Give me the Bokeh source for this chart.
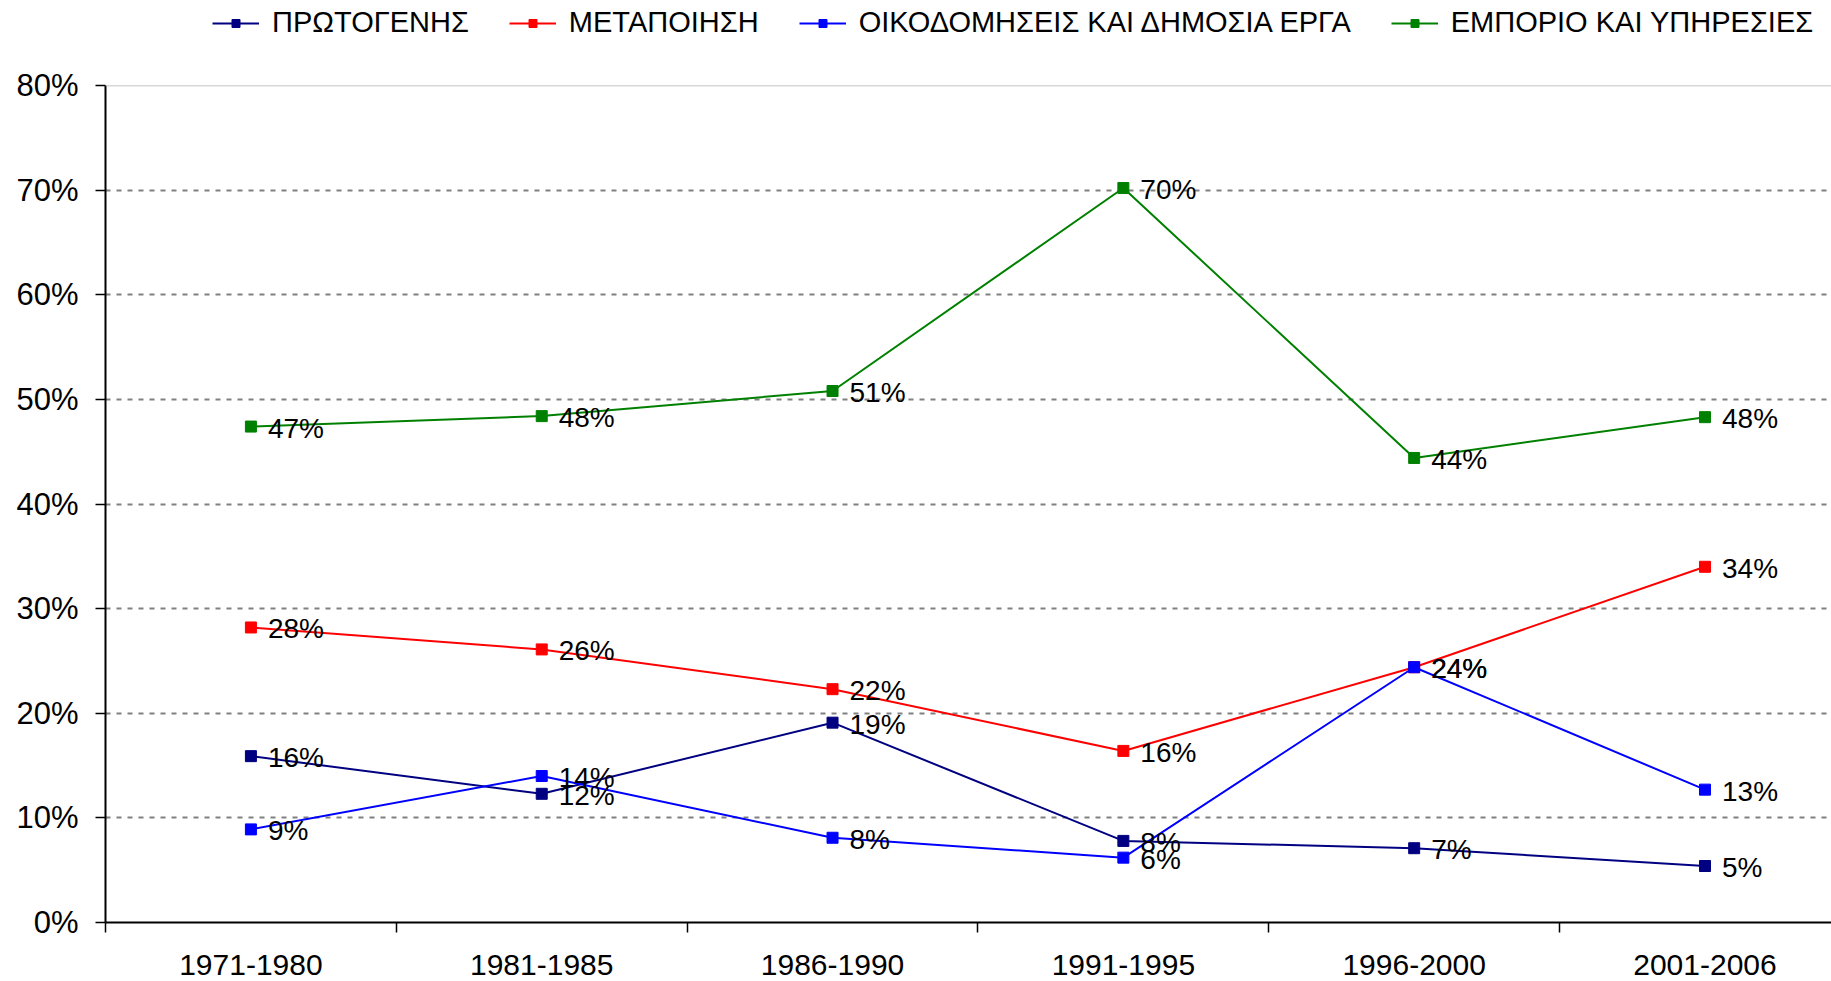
from bokeh.plotting import figure
from bokeh.layouts import column
from bokeh.models import (ColumnDataSource, Range1d, FixedTicker, PrintfTickFormatter,
                          Legend, LegendItem, Span)
from bokeh.core.properties import value
from bokeh.embed import file_html
from bokeh.resources import INLINE

categories = ["1971-1980", "1981-1985", "1986-1990", "1991-1995", "1996-2000", "2001-2006"]
primary = [15.9, 12.3, 19.1, 7.8, 7.1, 5.4]
manufacturing = [28.2, 26.1, 22.3, 16.4, 24.4, 34.0]
construction = [8.9, 14.0, 8.1, 6.2, 24.4, 12.7]
services = [47.4, 48.4, 50.8, 70.2, 44.4, 48.3]
series_names = ["ΠΡΩΤΟΓΕΝΗΣ", "ΜΕΤΑΠΟΙΗΣΗ", "ΟΙΚΟΔΟΜΗΣΕΙΣ ΚΑΙ ΔΗΜΟΣΙΑ ΕΡΓΑ", "ΕΜΠΟΡΙΟ ΚΑΙ ΥΠΗΡΕΣΙΕΣ"]
series_colors = ["#000080", "#FF0000", "#0000FF", "#008000"]
y_ticks = [0, 10, 20, 30, 40, 50, 60, 70, 80]

FONT = "Liberation Sans"
LEG_H = 65

xs = [i + 0.5 for i in range(len(categories))]
all_series = [primary, manufacturing, construction, services]
sources = [ColumnDataSource(dict(x=xs, y=vals)) for vals in all_series]

# ---- legend strip (top); its ranges show none of the data, only the legend ----
lf = figure(width=1831, height=LEG_H, output_backend="svg", toolbar_location=None,
            x_range=Range1d(-100, -99), y_range=Range1d(-100, -99),
            min_border_left=105, min_border_right=0, min_border_top=0, min_border_bottom=0)
lf.axis.visible = False
lf.grid.visible = False
lf.outline_line_color = None
lf.border_fill_color = "white"
items = []
for name, col, src in zip(series_names, series_colors, sources):
    l = lf.line("x", "y", source=src, line_color=col, line_width=2)
    s = lf.scatter("x", "y", source=src, marker="square", size=11, fill_color=col, line_color=col)
    items.append(LegendItem(label=name, renderers=[l, s]))
legend = Legend(items=items, orientation="horizontal", location=(107, 26),
                glyph_width=47, glyph_height=20, label_standoff=13, spacing=40,
                padding=0, margin=0, border_line_color=None, background_fill_alpha=0,
                label_text_font=FONT, label_text_font_size="29px", label_text_color="black")
lf.add_layout(legend, "center")

# ---- main chart ----
p = figure(width=1831, height=981 - LEG_H, output_backend="svg", toolbar_location=None,
           x_range=Range1d(0, 5.935), y_range=Range1d(0, 80),
           min_border_left=105, min_border_right=0, min_border_top=85 - LEG_H, min_border_bottom=59)
p.outline_line_color = None
p.background_fill_color = "white"
p.border_fill_color = "white"

p.xaxis.ticker = FixedTicker(ticks=xs, minor_ticks=list(range(0, 7)))
p.xaxis.major_label_overrides = {x: c for x, c in zip(xs, categories)}
p.xaxis.major_tick_line_color = None
p.xaxis.minor_tick_line_color = "black"
p.xaxis.minor_tick_line_width = 1.5
p.xaxis.minor_tick_out = 10
p.xaxis.minor_tick_in = 0
p.xaxis.axis_line_width = 2
p.xaxis.axis_line_color = "black"
p.xaxis.major_label_standoff = 22
p.xaxis.major_label_text_font = FONT
p.xaxis.major_label_text_font_size = "30px"
p.xaxis.major_label_text_color = "black"

p.yaxis.ticker = FixedTicker(ticks=y_ticks, minor_ticks=[])
p.yaxis.formatter = PrintfTickFormatter(format="%d%%")
p.yaxis.major_tick_out = 10
p.yaxis.major_tick_in = 0
p.yaxis.major_tick_line_width = 1.5
p.yaxis.axis_line_width = 2
p.yaxis.axis_line_color = "black"
p.yaxis.major_label_standoff = 17
p.yaxis.major_label_text_font = FONT
p.yaxis.major_label_text_font_size = "31px"
p.yaxis.major_label_text_color = "black"

p.xgrid.grid_line_color = None
p.ygrid.ticker = FixedTicker(ticks=[10, 20, 30, 40, 50, 60, 70, 80])
p.ygrid.grid_line_color = "#808080"
p.ygrid.grid_line_width = 2
p.ygrid.grid_line_dash = "5 6"

p.add_layout(Span(location=80, dimension="width", line_color="#b0b0b0", line_width=1.5))

for src, col in zip(sources, series_colors):
    p.line("x", "y", source=src, line_color=col, line_width=2)
    p.scatter("x", "y", source=src, marker="square", size=11, fill_color=col, line_color=col)

for vals in all_series:
    lsrc = ColumnDataSource(dict(x=xs, y=vals, t=[f"{round(v)}%" for v in vals]))
    p.text("x", "y", text="t", source=lsrc, text_font=value(FONT), text_font_size="28px",
           text_color="black", text_align="left", text_baseline="middle",
           x_offset=17, y_offset=1.5)

layout = column(lf, p, spacing=0)
open("out.html", "w").write(file_html(layout, INLINE))
